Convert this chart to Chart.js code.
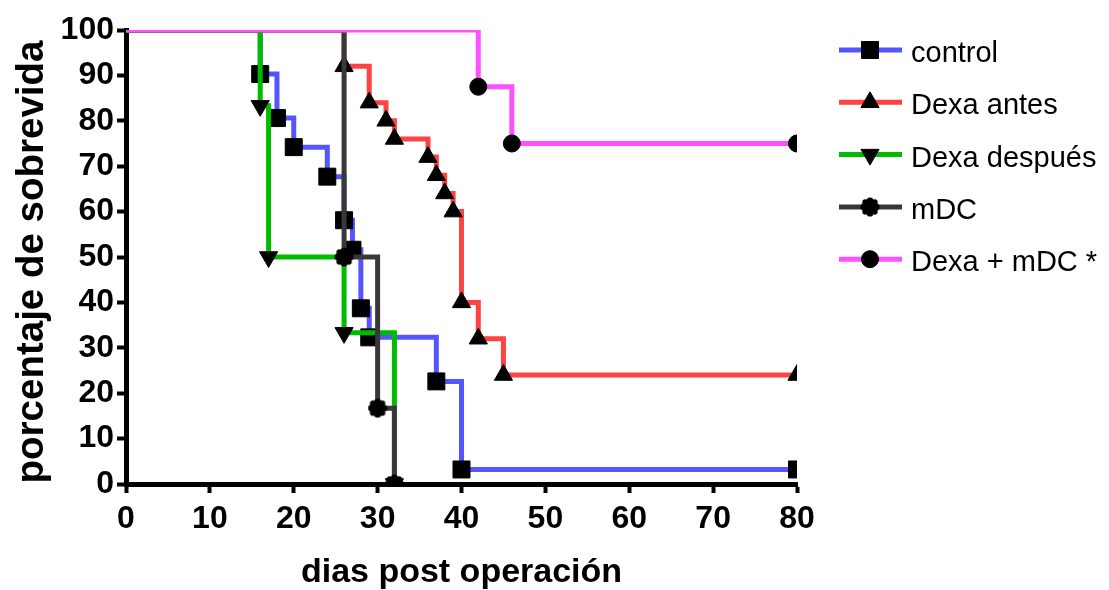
<!DOCTYPE html>
<html lang="es">
<head>
<meta charset="UTF-8">
<title>Porcentaje de sobrevida</title>
<script src="https://cdn.jsdelivr.net/npm/chart.js"></script>
<style>
  html, body { margin: 0; padding: 0; background: #fff; }
  canvas { display: block; }
</style>
</head>
<body>
<canvas id="survivalChart" width="1109" height="590"></canvas>
<script>
// Kaplan-Meier steps (day, % survival)
const seriesNames = ['control', 'Dexa antes', 'Dexa después', 'mDC', 'Dexa + mDC *'];

const controlDays   = [0, 16, 18, 20, 24, 26, 27, 28, 29, 37, 40, 80];
const controlValues = [100, 90.3, 80.6, 74.2, 67.7, 58.1, 51.6, 38.7, 32.3, 22.6, 3.2, 3.2];

const antesDays   = [0, 26, 29, 31, 32, 36, 37, 38, 39, 40, 42, 45, 80];
const antesValues = [100, 92, 84, 80, 76, 72, 68, 64, 60, 40, 32, 24, 24];

const despuesDays   = [0, 16, 17, 26, 32];
const despuesValues = [100, 83.3, 50, 33.3, 0];

const mdcDays   = [0, 26, 30, 32];
const mdcValues = [100, 50, 16.7, 0];

const comboDays   = [0, 42, 46, 80];
const comboValues = [100, 87.5, 75, 75];

const xTicks = [0, 10, 20, 30, 40, 50, 60, 70, 80];
const yTicks = [0, 10, 20, 30, 40, 50, 60, 70, 80, 90, 100];

const FONT = '"Liberation Sans", Arial, sans-serif';

// filled "flower" marker used by the mDC group
function makeStar(size) {
    const c = document.createElement('canvas');
    c.width = c.height = size;
    const g = c.getContext('2d');
    const m = size / 2;
    g.fillStyle = '#000';
    g.beginPath();
    g.arc(m, m, size * 0.33, 0, Math.PI * 2);
    g.fill();
    for (let i = 0; i < 8; i++) {
        const a = i * Math.PI / 4;
        g.beginPath();
        g.arc(m + Math.cos(a) * size * 0.32, m + Math.sin(a) * size * 0.32, size * 0.16, 0, Math.PI * 2);
        g.fill();
    }
    return c;
}
const star = makeStar(20);

function toPoints(days, values) {
    return days.map((d, i) => ({ x: d, y: values[i] }));
}

function series(idx, days, values, color, style, radius, rotation, order) {
    return {
        label: seriesNames[idx],
        data: toPoints(days, values),
        borderColor: color,
        borderWidth: 5,
        stepped: 'before',
        fill: false,
        pointStyle: style,
        pointRotation: rotation,
        markerSize: radius,
        pointRadius: ctx => ctx.dataIndex === 0 ? 0 : radius,
        pointHoverRadius: ctx => ctx.dataIndex === 0 ? 0 : radius,
        pointBackgroundColor: '#000',
        pointBorderColor: '#000',
        pointBorderWidth: 1,
        order: order
    };
}

const datasets = [
    series(0, controlDays, controlValues, '#5555ff', 'rect', 12, 0, 5),
    series(1, antesDays, antesValues, '#ff4242', 'triangle', 10.5, 0, 4),
    series(2, despuesDays, despuesValues, '#00bb00', 'triangle', 10.5, 180, 3),
    series(3, mdcDays, mdcValues, '#383838', star, 10, 0, 2),
    series(4, comboDays, comboValues, '#ff50ff', 'circle', 8.5, 0, 1)
];

// axis titles and the legend on the right
const extras = {
    id: 'extras',
    afterDraw(chart) {
        const ctx = chart.ctx;
        const a = chart.chartArea;
        ctx.save();
        ctx.fillStyle = '#000';

        ctx.font = 'bold 34px ' + FONT;
        ctx.textAlign = 'center';
        ctx.textBaseline = 'alphabetic';
        ctx.fillText('dias post operación', (a.left + a.right) / 2, 582);

        ctx.save();
        ctx.translate(43, (a.top + a.bottom) / 2 + 5);
        ctx.rotate(-Math.PI / 2);
        ctx.font = 'bold 38.5px ' + FONT;
        ctx.fillText('porcentaje de sobrevida', 0, 0);
        ctx.restore();

        ctx.textAlign = 'left';
        ctx.font = '29px ' + FONT;
        chart.data.datasets.forEach((ds, i) => {
            const y = a.top + 20 + i * 52.3;
            const x0 = a.right + 42;
            ctx.strokeStyle = ds.borderColor;
            ctx.lineWidth = 5;
            ctx.beginPath();
            ctx.moveTo(x0, y);
            ctx.lineTo(x0 + 63, y);
            ctx.stroke();
            ctx.fillStyle = '#000';
            ctx.strokeStyle = '#000';
            ctx.lineWidth = 1;
            Chart.helpers.drawPoint(ctx, {
                pointStyle: ds.pointStyle,
                rotation: ds.pointRotation,
                radius: ds.markerSize,
                borderWidth: 1
            }, x0 + 31, y);
            ctx.fillText(ds.label, x0 + 72, y + 12);
        });
        ctx.restore();
    }
};

const tickFont = { family: FONT, size: 32, weight: 'bold' };

new Chart(document.getElementById('survivalChart'), {
    type: 'line',
    data: { datasets: datasets },
    plugins: [extras],
    options: {
        responsive: false,
        devicePixelRatio: 1,
        animation: false,
        layout: { padding: { top: 30, right: 312, left: 0, bottom: 0 } },
        plugins: { legend: { display: false }, tooltip: { enabled: false } },
        scales: {
            x: {
                type: 'linear',
                min: 0,
                max: 80,
                afterFit: s => { s.height = 106; },
                afterBuildTicks: s => { s.ticks = xTicks.map(v => ({ value: v })); },
                grid: { drawOnChartArea: false, tickLength: 9, tickWidth: 4, tickColor: '#000' },
                border: { color: '#000', width: 5 },
                ticks: { color: '#000', font: tickFont, padding: 7, maxRotation: 0, autoSkip: false }
            },
            y: {
                type: 'linear',
                min: 0,
                max: 100,
                afterFit: s => { s.width = 126; },
                afterBuildTicks: s => { s.ticks = yTicks.map(v => ({ value: v })); },
                grid: { drawOnChartArea: false, tickLength: 9, tickWidth: 4, tickColor: '#000' },
                border: { color: '#000', width: 5 },
                ticks: { color: '#000', font: tickFont, padding: 3, autoSkip: false }
            }
        }
    }
});
</script>
</body>
</html>
